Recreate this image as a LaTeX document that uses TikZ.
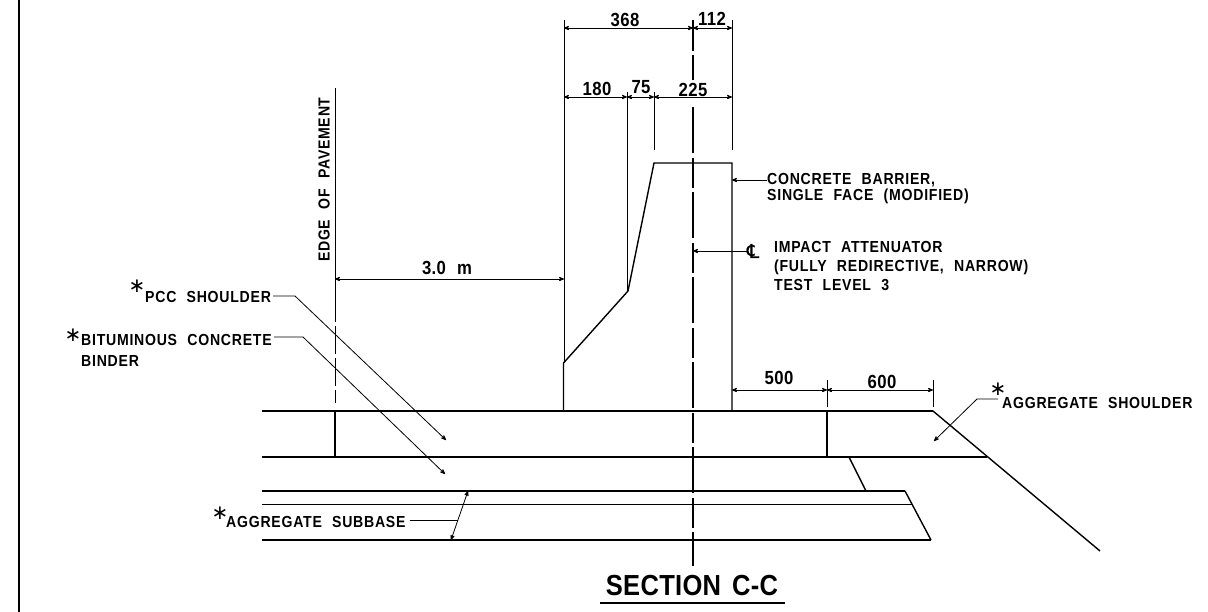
\documentclass[tikz,border=0pt]{standalone}
\usepackage{fontspec}
\setmainfont[FakeStretch=.88,LetterSpace=4.7,WordSpace=2.2,BoldFont={Liberation Sans Bold}]{Liberation Sans}
\newfontfamily\clfont[FakeBold=1]{DejaVu Sans}
\newfontfamily\starfont{DejaVu Sans}
\newfontfamily\titlefont[FakeStretch=.88,LetterSpace=1,WordSpace=1.5]{Liberation Sans Bold}
\usetikzlibrary{arrows}
\tikzset{
 heavy/.style={black, line width=1.4pt},
 thinline/.style={black, line width=.8pt},
 dimline/.style={black, line width=.8pt, <->, >=stealth'},
 leader/.style={black, line width=.8pt, ->, >=stealth'},
 label/.style={inner sep=0, anchor=west, align=left, font=\bfseries\fontsize{16}{19}\selectfont},
 dimlabel/.style={inner sep=0, font=\bfseries\fontsize{19}{20}\selectfont\addfontfeature{LetterSpace=2}},
 star/.style={inner sep=0, font=\starfont\fontsize{20}{20}\selectfont}
}
\begin{document}
\begin{tikzpicture}[x=1pt,y=-1pt]
\useasboundingbox (0,0) rectangle (1208,612);
\draw[black, line width=2.4pt] (19,0)--(19,612);
\draw[heavy] (563.5,411)--(563.5,363)--(628,291)--(654,163)--(732,163)--(732,411);
\foreach \y/\xe in {411/933, 457/987, 491/905, 504.5/912, 540/931} {
 \draw[heavy] (262,\y)--(\xe,\y);
}
\draw[heavy] (933,411)--(1100,551);
\draw[heavy] (905,491)--(931,540);
\draw[heavy] (849,457)--(866,491);
\draw[heavy] (335,411)--(335,457);
\draw[heavy] (827,411)--(827,457);
\draw[thinline] (335,88)--(335,322);
\draw[thinline, dash pattern=on 28pt off 4pt] (335,326)--(335,403);
\draw[thinline] (564,20)--(564,363);
\draw[thinline] (732,20)--(732,150);
\draw[thinline] (627,92)--(627,291);
\draw[thinline] (654,92)--(654,150);
\draw[thinline] (827,380)--(827,407);
\draw[thinline] (933,380)--(933,407);
\draw[heavy, dash pattern=on 31pt off 4pt] (693,20)--(693,80);
\draw[heavy, dash pattern=on 46pt off 5pt on 30pt off 4pt] (693,107)--(693,566);
\foreach \xa/\xb/\y in {564/693/28, 693/732/28, 564/627/97, 627/654/97, 654/732/97, 335/564/279, 732/827/390, 827/933/390} {
 \draw[dimline] (\xa,\y)--(\xb,\y);
}
\node[dimlabel] (dimA) at (625,20) {368};
\node[dimlabel] (dimB) at (712,19) {112};
\node[dimlabel] (dimC) at (597,89) {180};
\node[dimlabel] (dimD) at (641,87) {75};
\node[dimlabel] (dimE) at (693,90) {225};
\node[dimlabel] (dimF) at (447,268) {3.0 m};
\node[dimlabel] (dimG) at (779,378) {500};
\node[dimlabel] (dimH) at (882,382) {600};
\node[label, rotate=90] (edge) at (324,262) {EDGE OF PAVEMENT};
\node[label, anchor=north west] (barrier) at (767,173) {CONCRETE BARRIER,\\[-3pt]SINGLE FACE (MODIFIED)};
\node[label, anchor=north west] (impact) at (774,241) {IMPACT ATTENUATOR\\(FULLY REDIRECTIVE, NARROW)\\TEST LEVEL 3};
\node[inner sep=0, font=\clfont\fontsize{19}{19}\selectfont] (cl) at (753,251) {℄};
\node[label] (pcc) at (145,297) {PCC SHOULDER};
\node[label, anchor=north west] (binder) at (81,334) {BITUMINOUS CONCRETE\\[2pt]BINDER};
\node[label] (subbase) at (226,522) {AGGREGATE SUBBASE};
\node[label] (shoulder) at (1002,403) {AGGREGATE SHOULDER};
\node[star] (starA) at (137,286) {∗};
\node[star] (starB) at (73,335) {∗};
\node[star] (starC) at (220,513) {∗};
\node[star] (starD) at (998,389) {∗};
\coordinate (pccbend) at (295,296);
\coordinate (pcctip) at (446,440);
\coordinate (binderbend) at (303,337);
\coordinate (bindertip) at (445,474);
\coordinate (subbend) at (458,520);
\coordinate (subtop) at (468,491);
\coordinate (subbot) at (451,540);
\coordinate (shoulderbend) at (977,399);
\coordinate (shouldertip) at (934,441);
\coordinate (barriertip) at (732,180);
\coordinate (cltip) at (693,251);
\draw[leader] (pcc.east)++(2,-1)--(pccbend)--(pcctip);
\draw[leader] (binder.north east)++(2,3)--(binderbend)--(bindertip);
\draw[thinline] (subbase.east)++(4,-2)--(subbend);
\draw[dimline] (subtop)--(subbot);
\draw[leader] (shoulder.west)++(-4,-4)--(shoulderbend)--(shouldertip);
\draw[leader] (barrier.north west)++(0,7)--(barriertip);
\draw[leader] (cl.west)--(cltip);
\node[inner sep=0, font=\titlefont\fontsize{29}{30}\selectfont] (title) at (692,586) {SECTION C-C};
\coordinate (underA) at (600,603);
\coordinate (underB) at (785,603);
\draw[black, line width=2pt] (underA)--(underB);
\end{tikzpicture}
\end{document}
